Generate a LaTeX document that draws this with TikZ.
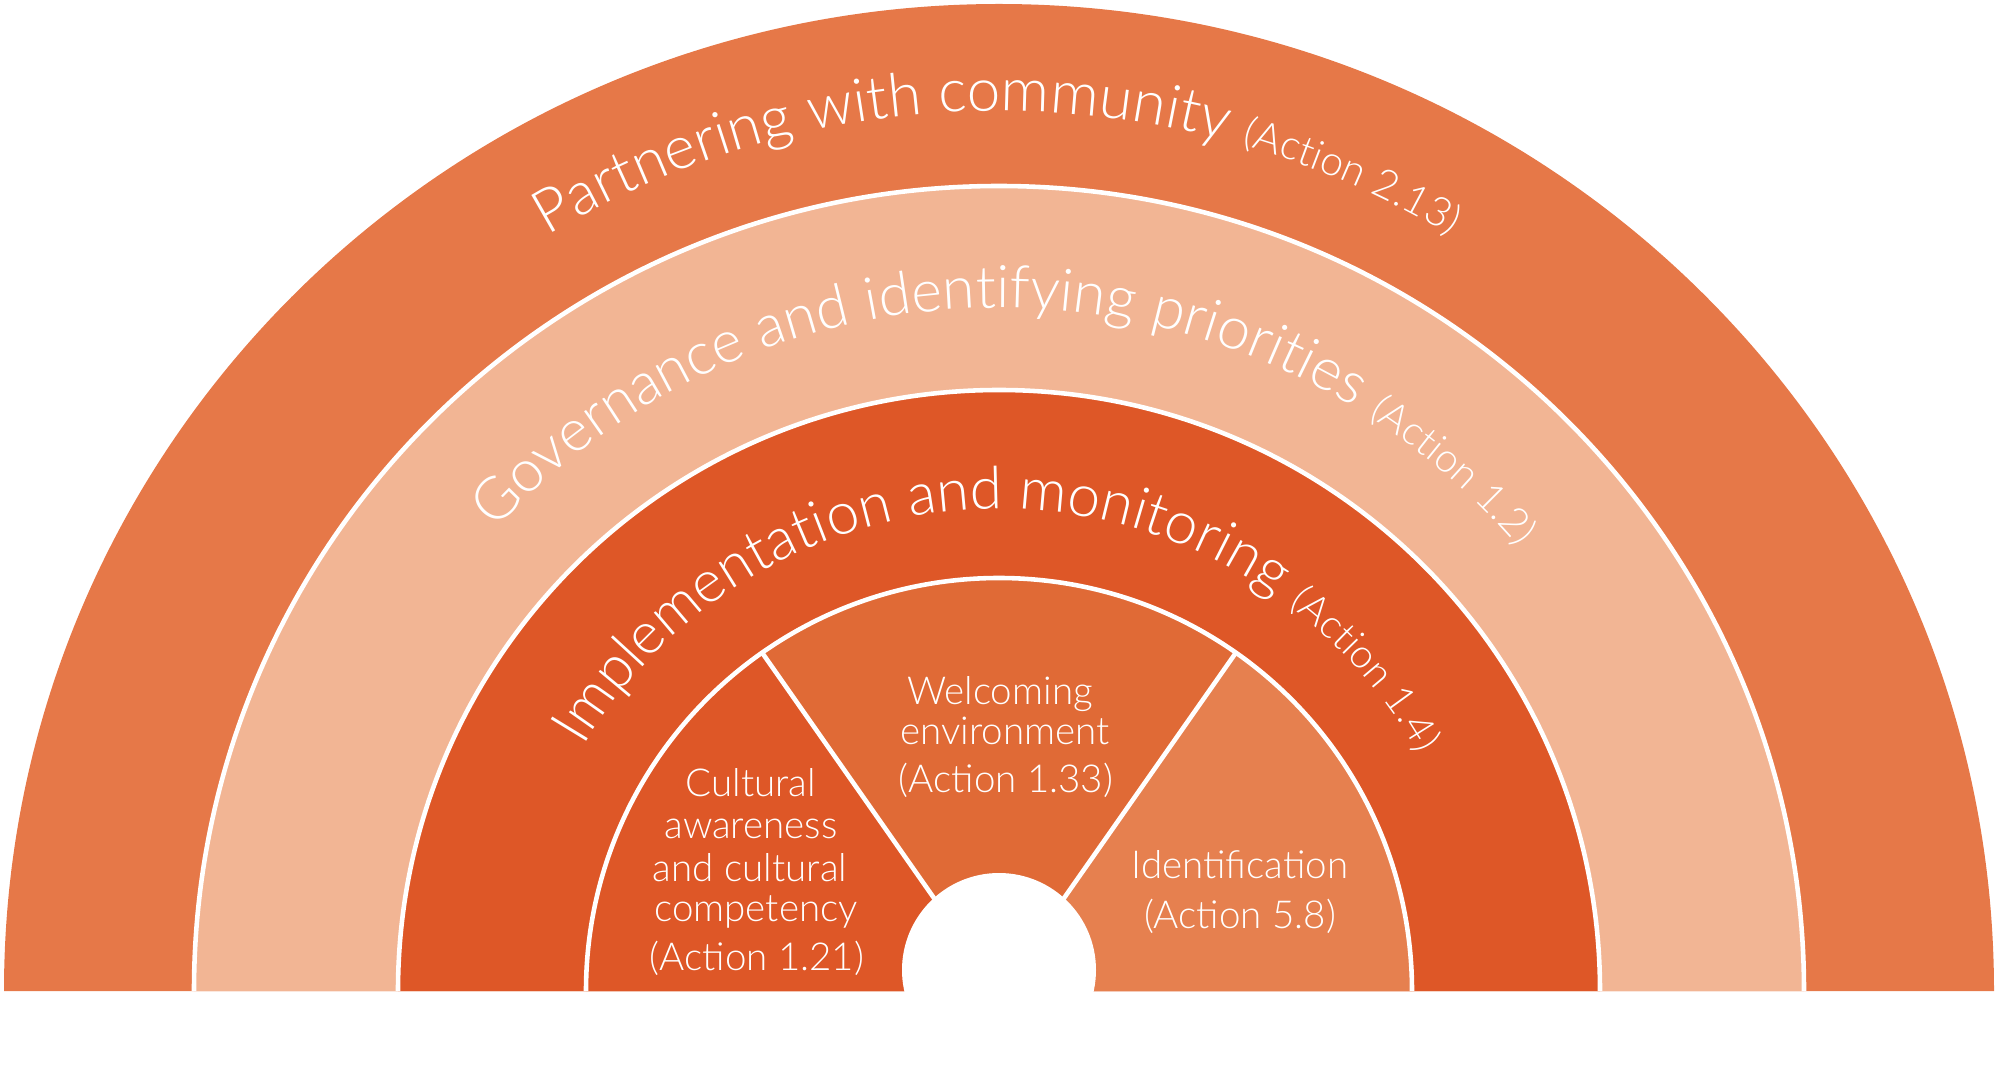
\documentclass[tikz,border=0pt]{standalone}
\usepackage{fontspec}
\setmainfont{Lato}[UprightFont={* Light}]
\usetikzlibrary{decorations.text}
\definecolor{outerc}{HTML}{E67848}
\definecolor{lightc}{HTML}{F2B594}
\definecolor{darkc}{HTML}{DE5727}
\definecolor{midc}{HTML}{E06A36}
\definecolor{rightc}{HTML}{E6804F}
\newcommand\bigtxt{\fontsize{17.1pt}{20pt}\selectfont}
\newcommand\smalltxt{\fontsize{11.7pt}{14pt}\selectfont}
\newcommand\bigtxtB{\fontsize{16.75pt}{20pt}\selectfont}
\newcommand\smalltxtB{\fontsize{11.45pt}{14pt}\selectfont}
\newcommand\bigtxtC{\fontsize{16.7pt}{20pt}\selectfont}
\newcommand\smalltxtC{\fontsize{11.4pt}{14pt}\selectfont}
\newcommand\innertxt{\fontsize{10.95pt}{13pt}\selectfont}
\begin{document}
\begin{tikzpicture}[x=0.01cm,y=0.01cm,
  gap/.style={white,line width=1.3pt},
  arctext/.style={decorate, decoration={text along path, text align=center, text color=white, text={#1}}},
  lbl/.style={anchor=base, text=white, font=\innertxt, inner sep=0pt}]
\useasboundingbox (0,0) rectangle (1999,1069);
\begin{scope}[shift={(999,78)}]
  % outer band
  \fill[outerc] (-995,0) arc[start angle=180, end angle=0, x radius=995, y radius=987] -- cycle;
  % light band
  \fill[lightc] (-805,0) arc[start angle=180, end angle=0, radius=805] -- cycle;
  \draw[gap] (-805,0) arc[start angle=180, end angle=0, radius=805];
  % dark band
  \fill[darkc] (-601,0) arc[start angle=180, end angle=0, radius=601] -- cycle;
  \draw[gap] (-601,0) arc[start angle=180, end angle=0, radius=601];
  % inner sectors
  \fill[darkc] (0,0) -- (180:413) arc[start angle=180, end angle=125, radius=413] -- cycle;
  \fill[midc] (0,0) -- (125:413) arc[start angle=125, end angle=55, radius=413] -- cycle;
  \fill[rightc] (0,0) -- (55:413) arc[start angle=55, end angle=0, radius=413] -- cycle;
  \draw[gap] (-413,0) arc[start angle=180, end angle=0, radius=413];
  \draw[gap] (0,0) -- (125:413);
  \draw[gap] (0,0) -- (55:413);
  \fill[white] (0,21) circle[radius=97];
  % curved texts
  \path[arctext={|\bigtxt|Partnering with community |\smalltxt|(Action 2.13)}]
    (180:880) arc[start angle=180, end angle=0, radius=880];
  \path[arctext={|\bigtxtB|Governance and identifying priorities |\smalltxtB|(Action 1.2)}]
    (179:683) arc[start angle=179, end angle=-1, radius=683];
  \path[arctext={|\bigtxtC|Implementation and monitoring |\smalltxtC|(Action 1.4)}]
    (179.5:482) arc[start angle=179.5, end angle=-0.5, radius=482];
\end{scope}
% inner labels
\node[lbl] (w1) at (1000,364) {Welcoming};
\node[lbl] (w2) at (1005,324) {environment};
\node[lbl] (w3) at (1006,276) {(Action 1.33)};
\node[lbl] (c1) at (751,272) {Cultural};
\node[lbl] (c2) at (751,231) {awareness};
\node[lbl] (c3) at (750,188) {and cultural};
\node[lbl] (c4) at (756,147) {competency};
\node[lbl] (c5) at (757,99) {(Action 1.21)};
\node[lbl] (i1) at (1240,190) {Identification};
\node[lbl] (i2) at (1240,141) {(Action 5.8)};
\end{tikzpicture}
\end{document}
